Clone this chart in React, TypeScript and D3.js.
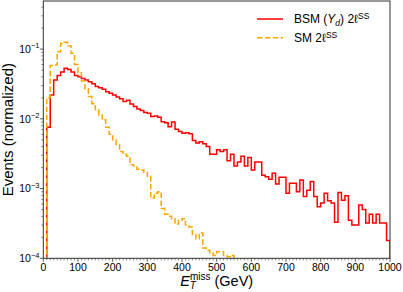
import React from 'react';
import * as d3 from 'd3';

// 10 GeV bins, first filled bin starts at 10 GeV
const binWidth = 10;
const firstEdge = 10;

const bsmValues = [
  0.0076, 0.022, 0.036, 0.042, 0.047, 0.053, 0.051, 0.047, 0.042, 0.040,
  0.038, 0.036, 0.034, 0.032, 0.029, 0.028, 0.0266, 0.0244, 0.0233, 0.0219,
  0.0205, 0.0195, 0.0177, 0.0185, 0.0163, 0.015, 0.0138, 0.0132, 0.0123, 0.012,
  0.0108, 0.011, 0.0105, 0.0091, 0.0088, 0.0077, 0.009, 0.0071, 0.0066, 0.0062,
  0.0063, 0.0061, 0.0049, 0.0045, 0.0047, 0.0044, 0.004, 0.0031, 0.0031, 0.0036,
  0.0034, 0.0036, 0.0025, 0.0031, 0.0021, 0.0024, 0.0029, 0.0021, 0.0028, 0.00185,
  0.0024, 0.0024, 0.00155, 0.00148, 0.00136, 0.00166, 0.00116, 0.00145, 0.00145, 0.00086,
  0.00119, 0.00119, 0.0009, 0.00133, 0.00077, 0.00095, 0.00126, 0.00077, 0.00055, 0.00062,
  0.00086, 0.00067, 0.00062, 0.00033, 0.00088, 0.00068, 0.00079, 0.00035, 0.0003, 0.0003,
  0.00058, 0.0005, 0.00032, 0.00043, 0.00032, 0.00043, 0.00032, 0.00032, 0.00018,
];

const smValues = [
  0.02, 0.058, 0.059, 0.092, 0.12, 0.126, 0.111, 0.087, 0.06, 0.046,
  0.035, 0.027, 0.021, 0.0165, 0.0135, 0.0114, 0.0097, 0.0076, 0.006, 0.005,
  0.0043, 0.0034, 0.0031, 0.0029, 0.0022, 0.0021, 0.0019, 0.00185, 0.0017, 0.0015,
  0.00073, 0.00086, 0.0009, 0.00052, 0.00043, 0.0004, 0.00037, 0.00031, 0.00035, 0.00037,
  0.0003, 0.00028, 0.00022, 0.00019, 0.00023, 0.00014, 0.00013, 0.00012, 0.00011, 0.000124,
  0.000124, 0.00011, 0.000105, 0.00011,
];

const xTicks = [0, 100, 200, 300, 400, 500, 600, 700, 800, 900, 1000];
const yTicks = [1e-4, 1e-3, 1e-2, 1e-1];
const yTickExp = ['−4', '−3', '−2', '−1'];

const W = 403;
const H = 292;
const plot = { left: 43.3, right: 390, top: 1, bottom: 258.3 };
const font = '"Liberation Sans", Arial, "DejaVu Sans", sans-serif';

const x = d3.scaleLinear().domain([0, 1000]).range([plot.left, plot.right]);
const y = d3.scaleLog().domain([1e-4, 0.49]).range([plot.bottom, plot.top]);

function stepPath(values: number[]) {
  const base = plot.bottom + 4;
  let d = `M${x(firstEdge)},${base}`;
  values.forEach((v, i) => {
    const x0 = x(firstEdge + i * binWidth);
    const x1 = x(firstEdge + (i + 1) * binWidth);
    const yy = v > 0 ? y(v) : base;
    d += `L${x0},${yy}L${x1},${yy}`;
  });
  d += `L${x(firstEdge + values.length * binWidth)},${base}`;
  return d;
}

export default function App() {
  const xMinor = d3.range(0, 1001, 10).filter((v) => v % 100 !== 0);
  const yMinor: number[] = [];
  [1e-4, 1e-3, 1e-2, 1e-1].forEach((dec) => {
    for (let m = 2; m <= 9; m++) {
      const v = m * dec;
      if (v <= y.domain()[1]) yMinor.push(v);
    }
  });

  return (
    <svg width={W} height={H} style={{ position: 'absolute', left: 0, top: 0, background: '#fff' }}
      fontFamily={font}>
      <defs>
        <clipPath id="plotArea">
          <rect x={plot.left} y={plot.top} width={plot.right - plot.left} height={plot.bottom - plot.top} />
        </clipPath>
      </defs>

      <g clipPath="url(#plotArea)">
        <path d={stepPath(bsmValues)} fill="none" stroke="#ff0000" strokeWidth={1.5} />
        <path d={stepPath(smValues)} fill="none" stroke="#ffa500" strokeWidth={1.5}
          strokeDasharray="5.5,2.4" />
      </g>

      <rect x={plot.left} y={plot.top} width={plot.right - plot.left} height={plot.bottom - plot.top}
        fill="none" stroke="#333" strokeWidth={1} />

      {/* x axis */}
      {xMinor.map((v) => (
        <line key={'xm' + v} x1={x(v)} x2={x(v)} y1={plot.bottom} y2={plot.bottom + 2} stroke="#333" strokeWidth={0.6} />
      ))}
      {xTicks.map((v) => (
        <g key={'x' + v}>
          <line x1={x(v)} x2={x(v)} y1={plot.bottom} y2={plot.bottom + 3.5} stroke="#333" strokeWidth={0.8} />
          <text x={x(v)} y={270.5} fontSize={10.5} textAnchor="middle" fill="#000">{v}</text>
        </g>
      ))}

      {/* y axis */}
      {yMinor.map((v) => (
        <line key={'ym' + v} x1={plot.left - 2} x2={plot.left} y1={y(v)} y2={y(v)} stroke="#333" strokeWidth={0.6} />
      ))}
      {yTicks.map((v, i) => (
        <g key={'y' + v}>
          <line x1={plot.left - 3.5} x2={plot.left} y1={y(v)} y2={y(v)} stroke="#333" strokeWidth={0.8} />
          <text x={39.5} y={y(v) + 3.8} fontSize={10.5} textAnchor="end" fill="#000">
            <tspan>10</tspan>
            <tspan dy={-4.5} fontSize={7.5}>{yTickExp[i]}</tspan>
          </text>
        </g>
      ))}

      <text transform={`translate(13,${(plot.top + plot.bottom) / 2}) rotate(-90)`} fontSize={15}
        textAnchor="middle" fill="#000">Events (normalized)</text>

      <text x={(plot.left + plot.right) / 2} y={286} fontSize={14.5} textAnchor="middle" fill="#000">
        <tspan fontStyle="italic">E</tspan>
        <tspan fontStyle="italic" fontSize={10} dy={3}>T</tspan>
        <tspan fontSize={10} dx={-6} dy={-9.5}>miss</tspan>
        <tspan dy={6.5}> (GeV)</tspan>
      </text>

      {/* legend */}
      <line x1={257} x2={283} y1={19} y2={19} stroke="#ff0000" strokeWidth={1.5} />
      <text x={294} y={23.2} fontSize={12} fill="#000">
        BSM (<tspan fontStyle="italic">Y</tspan><tspan fontSize={8.5} fontStyle="italic" dy={2.5}>d</tspan>
        <tspan dy={-2.5}>) 2ℓ</tspan><tspan fontSize={8.5} dy={-4.5}>SS</tspan>
      </text>
      <line x1={257} x2={283} y1={37.7} y2={37.7} stroke="#ffa500" strokeWidth={1.5} strokeDasharray="5.5,2.4" />
      <text x={294} y={42} fontSize={12} fill="#000">
        SM 2ℓ<tspan fontSize={8.5} dy={-4.5}>SS</tspan>
      </text>
    </svg>
  );
}
